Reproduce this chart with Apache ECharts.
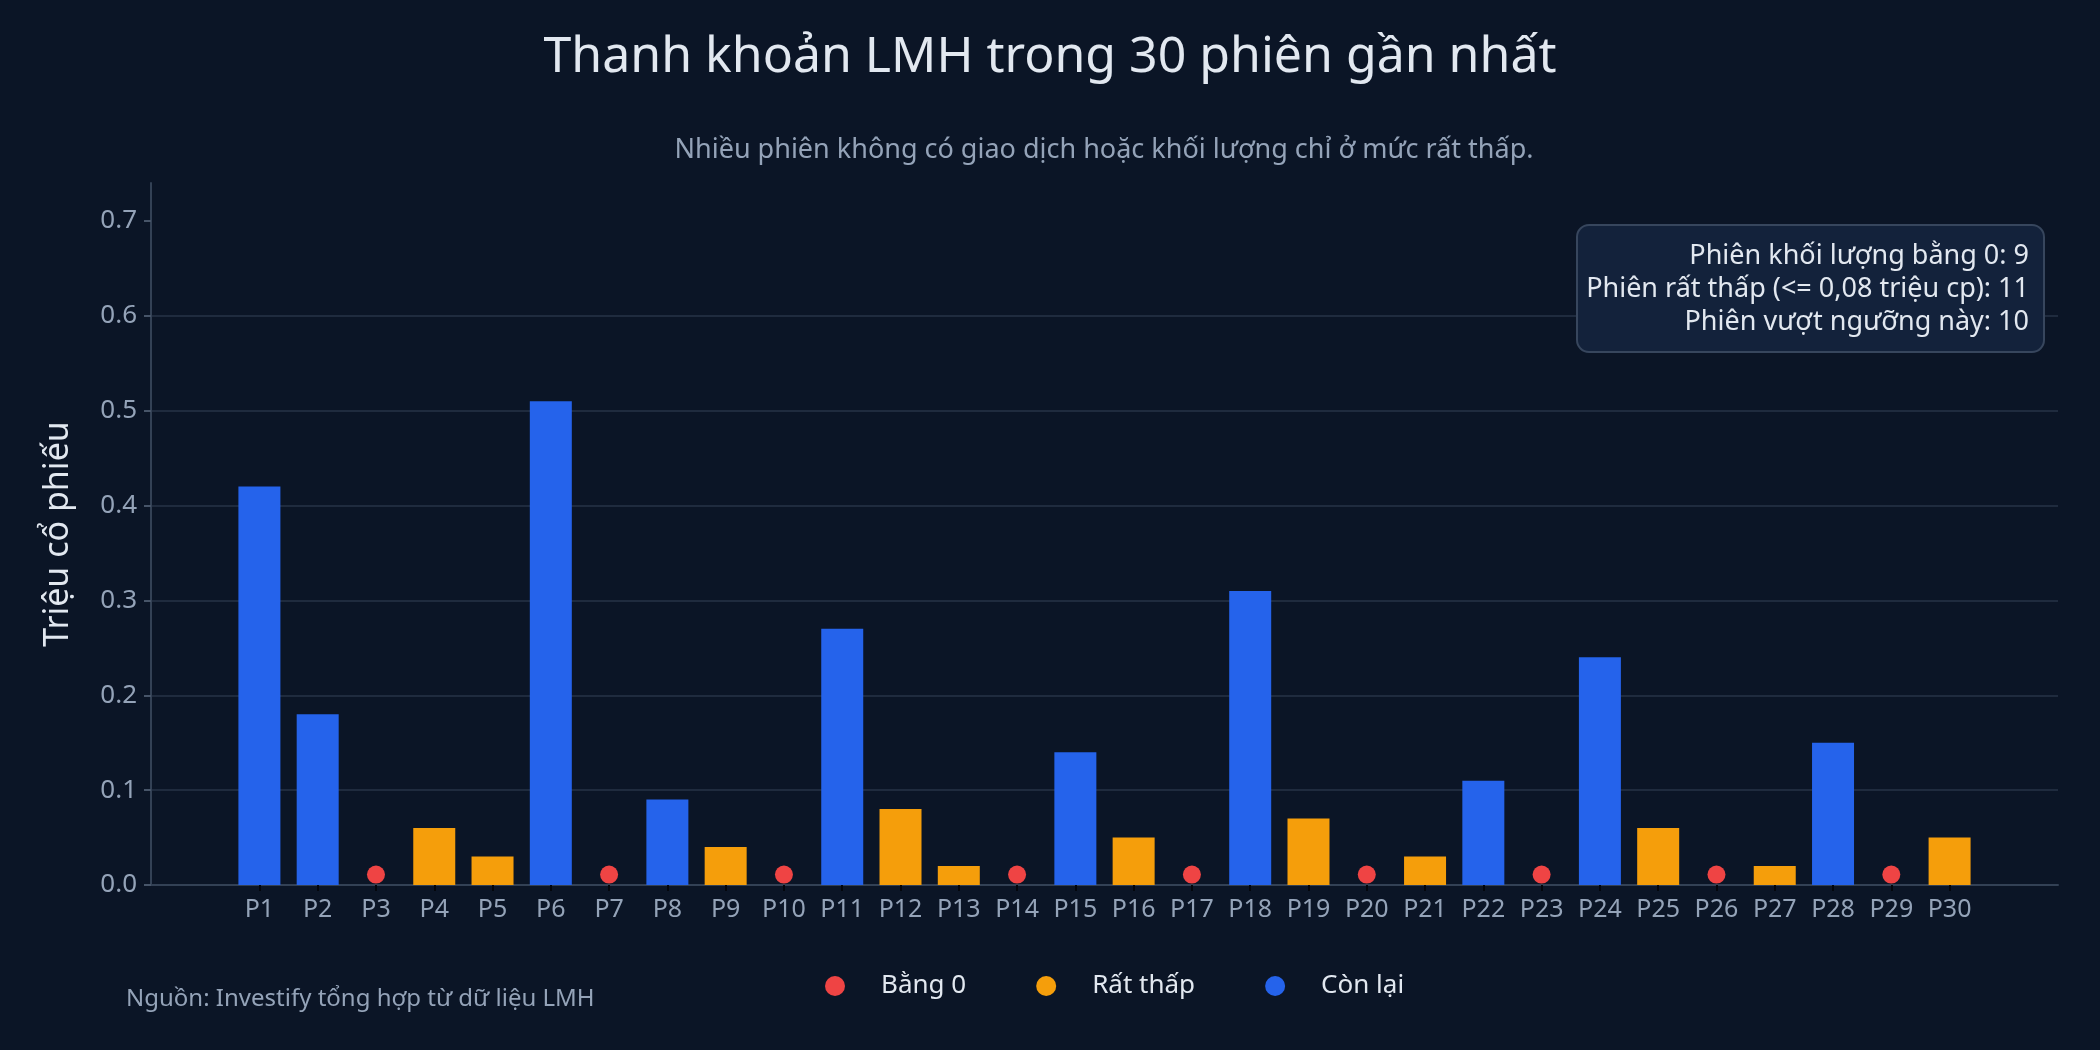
<!DOCTYPE html>
<html>
<head>
<meta charset="utf-8">
<title>Thanh khoản LMH</title>
<script src="https://cdn.jsdelivr.net/npm/echarts@6.0.0/dist/echarts.min.js"></script>
<style>
  html, body { margin: 0; padding: 0; background: #0b1526; }
  #chart { width: 2100px; height: 1050px; }
</style>
</head>
<body>
<div id="chart"></div>
<script>
// khối lượng 30 phiên, đơn vị triệu cổ phiếu
const sessions = ['P1','P2','P3','P4','P5','P6','P7','P8','P9','P10',
  'P11','P12','P13','P14','P15','P16','P17','P18','P19','P20',
  'P21','P22','P23','P24','P25','P26','P27','P28','P29','P30'];
const volumes = [0.42, 0.18, 0, 0.06, 0.03, 0.51, 0, 0.09, 0.04, 0,
  0.27, 0.08, 0.02, 0, 0.14, 0.05, 0, 0.31, 0.07, 0,
  0.03, 0.11, 0, 0.24, 0.06, 0, 0.02, 0.15, 0, 0.05];
const lowLimit = 0.08;
const zeroMarkY = 0.011;   // chấm đỏ đặt hơi cao hơn trục 0
const yTicks = [0, 0.1, 0.2, 0.3, 0.4, 0.5, 0.6, 0.7];
const legendNames = ['Bằng 0', 'Rất thấp', 'Còn lại'];

const zeroData = [], lowData = [], restData = [];
volumes.forEach((v, i) => {
  if (v === 0) zeroData.push([i, zeroMarkY]);
  else if (v <= lowLimit) lowData.push([i, v]);
  else restData.push([i, v]);
});
const idx = sessions.map((s, i) => i);

const boxText = [
  'Phiên khối lượng bằng 0: ' + zeroData.length,
  'Phiên rất thấp (<= 0,08 triệu cp): ' + lowData.length,
  'Phiên vượt ngưỡng này: ' + restData.length
].join('\n');

const font = '"Noto Sans", "Open Sans", sans-serif';
const myChart = echarts.init(document.getElementById('chart'));

const option = {
  backgroundColor: '#0b1526',
  textStyle: { fontFamily: font },
  animation: false,
  title: {
    text: 'Thanh khoản LMH trong 30 phiên gần nhất',
    left: 'center',
    top: 28,
    textStyle: { color: '#e2e8f0', fontSize: 50, fontWeight: 'normal', fontFamily: font }
  },
  grid: { left: 151, right: 42, top: 183, bottom: 165 },
  legend: {
    data: legendNames,
    left: 820,
    top: 968,
    icon: 'circle',
    itemWidth: 20,
    itemHeight: 20,
    itemGap: 70,
    textStyle: { color: '#e2e8f0', fontSize: 26, fontFamily: font, padding: [0, 0, 0, 31] }
  },
  xAxis: {
    type: 'value',
    min: -1.86,
    max: 30.86,
    splitLine: { show: false },
    axisLine: { lineStyle: { color: '#334155', width: 2 } },
    axisTick: { show: true, customValues: idx, length: 6, lineStyle: { color: '#03060c', width: 2 } },
    axisLabel: {
      customValues: idx,
      formatter: v => sessions[v],
      color: '#94a3b8',
      fontSize: 25,
      margin: 12
    }
  },
  yAxis: {
    type: 'value',
    min: 0,
    max: 0.74,
    interval: 0.1,
    name: 'Triệu cổ phiếu',
    nameLocation: 'middle',
    nameGap: 76,
    nameTextStyle: { color: '#e2e8f0', fontSize: 34 },
    axisLine: { show: true, onZero: false, lineStyle: { color: '#334155', width: 2 } },
    axisTick: { show: true, customValues: yTicks, length: 7, lineStyle: { color: '#475569', width: 2 } },
    axisLabel: {
      customValues: yTicks,
      formatter: v => v.toFixed(1),
      color: '#94a3b8',
      fontSize: 26,
      margin: 14
    },
    splitLine: { showMaxLine: false, lineStyle: { color: '#1f2b3e', width: 2 } }
  },
  series: [
    {
      name: 'Bằng 0',
      type: 'scatter',
      data: zeroData,
      symbol: 'circle',
      symbolSize: 18,
      itemStyle: { color: '#ef4444', opacity: 1 },
      z: 3
    },
    {
      name: 'Rất thấp',
      type: 'bar',
      data: lowData,
      barWidth: 42,
      barGap: '-100%',
      itemStyle: { color: '#f59e0b' }
    },
    {
      name: 'Còn lại',
      type: 'bar',
      data: restData,
      barWidth: 42,
      barGap: '-100%',
      itemStyle: { color: '#2563eb' }
    }
  ],
  graphic: [
    {
      type: 'text',
      x: 1104,
      y: 150,
      style: {
        text: 'Nhiều phiên không có giao dịch hoặc khối lượng chỉ ở mức rất thấp.',
        fill: '#94a3b8',
        font: '27px ' + font,
        textAlign: 'center',
        textVerticalAlign: 'middle'
      }
    },
    {
      type: 'text',
      x: 126,
      y: 999,
      style: {
        text: 'Nguồn: Investify tổng hợp từ dữ liệu LMH',
        fill: '#94a3b8',
        font: '24px ' + font,
        textAlign: 'left',
        textVerticalAlign: 'middle'
      }
    },
    {
      type: 'rect',
      x: 1577,
      y: 225,
      shape: { width: 467, height: 127, r: 12 },
      style: { fill: '#13223b', stroke: '#37465d', lineWidth: 2 },
      z: 10
    },
    {
      type: 'text',
      x: 2029,
      y: 289,
      z: 11,
      style: {
        text: boxText,
        fill: '#e2e8f0',
        font: '27px ' + font,
        lineHeight: 33,
        textAlign: 'right',
        textVerticalAlign: 'middle'
      }
    }
  ]
};
option && myChart.setOption(option);
</script>
</body>
</html>
